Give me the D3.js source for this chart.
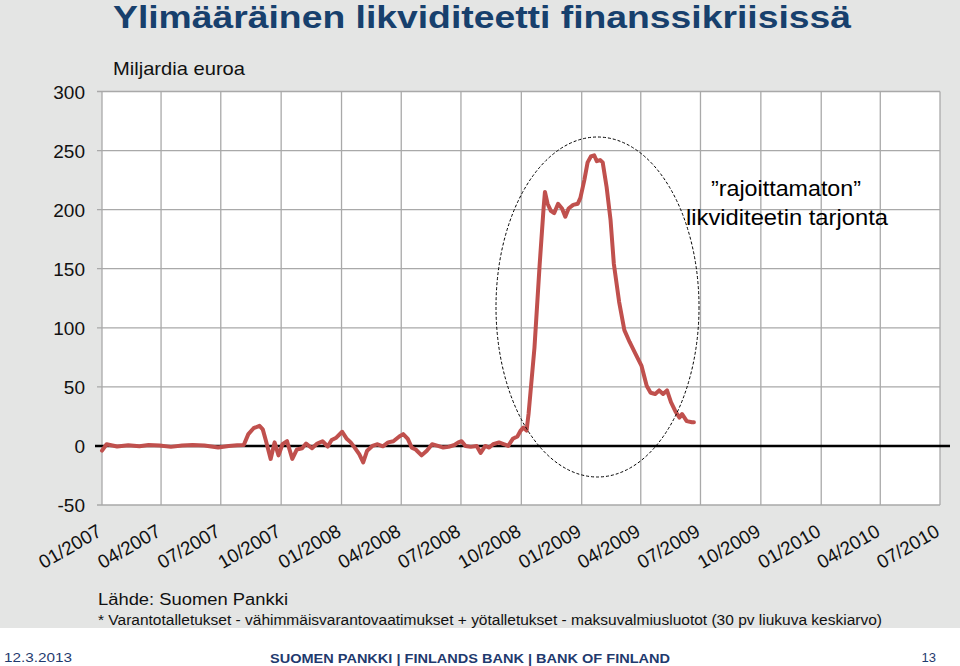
<!DOCTYPE html>
<html><head><meta charset="utf-8">
<script src="https://cdn.jsdelivr.net/npm/d3@7"></script>
<style>
html,body{margin:0;padding:0;background:#fff;}
svg{display:block;font-family:"Liberation Sans",Arial,sans-serif;}
</style></head>
<body>
<svg id="c" width="960" height="666"></svg>
<script>
// ---- data ----
const dates = ["2007-01-01","2007-01-08","2007-01-24","2007-02-10","2007-02-27","2007-03-13","2007-03-30","2007-04-16","2007-05-03","2007-05-19","2007-06-06","2007-06-27","2007-07-13","2007-07-26","2007-08-05","2007-08-12","2007-08-20","2007-08-29","2007-09-03","2007-09-08","2007-09-15","2007-09-21","2007-09-27","2007-10-03","2007-10-10","2007-10-18","2007-10-25","2007-11-02","2007-11-08","2007-11-17","2007-11-25","2007-12-03","2007-12-11","2007-12-17","2007-12-24","2008-01-02","2008-01-09","2008-01-15","2008-01-21","2008-01-28","2008-02-03","2008-02-09","2008-02-17","2008-02-25","2008-03-04","2008-03-12","2008-03-20","2008-03-29","2008-04-04","2008-04-11","2008-04-17","2008-04-23","2008-05-02","2008-05-10","2008-05-18","2008-05-27","2008-06-04","2008-06-12","2008-06-21","2008-06-27","2008-07-02","2008-07-08","2008-07-16","2008-07-25","2008-07-31","2008-08-07","2008-08-13","2008-08-19","2008-08-28","2008-09-05","2008-09-11","2008-09-18","2008-09-25","2008-09-30","2008-10-04","2008-10-09","2008-10-12","2008-10-21","2008-10-29","2008-11-04","2008-11-06","2008-11-10","2008-11-15","2008-11-20","2008-11-26","2008-12-02","2008-12-07","2008-12-12","2008-12-19","2008-12-26","2008-12-30","2009-01-05","2009-01-10","2009-01-15","2009-01-20","2009-01-24","2009-01-29","2009-02-02","2009-02-08","2009-02-14","2009-02-19","2009-02-27","2009-03-07","2009-03-15","2009-03-24","2009-04-02","2009-04-10","2009-04-16","2009-04-23","2009-04-29","2009-05-05","2009-05-11","2009-05-17","2009-05-24","2009-05-30","2009-06-03","2009-06-10","2009-06-18","2009-06-21"];
const values = [-4,1.4,-0.5,0.5,-0.3,0.8,0.3,-0.8,0.3,0.8,0.3,-1.4,0,0.6,0.8,10,15,17,14,4,-11,3,-8,1.4,4,-11,-3,-2,2,-2,2,4,-0.5,5,7,12,6,3,-1.4,-7,-14,-4,0,1.4,-0.3,3,4,8,10,6,-1.4,-3,-8,-4,1.4,0,-1.4,-0.8,0.8,3,4,0,-0.8,0,-6,0,-1.4,1.4,3,1.4,0,6,8,13,15.5,13,27,83,154,202,215,205,199,197,205,201,194,201,204,205,210,225,240,245,246,241,242,240,219,191,154,122,98,88,78,68,51,45,44,47,44,47,37,29,24,27,21,20,20];
const xTickLabels = ["01/2007","04/2007","07/2007","10/2007","01/2008","04/2008","07/2008","10/2008","01/2009","04/2009","07/2009","10/2009","01/2010","04/2010","07/2010"];
const yTicks = [-50,0,50,100,150,200,250,300];

const svg = d3.select("#c");
const W = 960, H = 666;
const parse = d3.timeParse("%Y-%m-%d");
const pts = dates.map((d,i)=>({date:parse(d), v:values[i]}));
const tickDates = xTickLabels.map(s=>{const [m,y]=s.split("/"); return new Date(+y, +m-1, 1);});

// background
svg.append("rect").attr("x",0).attr("y",0).attr("width",W).attr("height",628).attr("fill","#e4e5e4");
svg.append("rect").attr("x",0).attr("y",628).attr("width",W).attr("height",H-628).attr("fill","#ffffff");

const x = d3.scaleTime().domain([tickDates[0], tickDates[tickDates.length-1]]).range([102,940]);
const y = d3.scaleLinear().domain([-50,300]).range([505,91.5]);

// plot area
svg.append("rect").attr("x",102).attr("y",y(300)).attr("width",838).attr("height",y(-50)-y(300)).attr("fill","#fff");

// grid
const g = svg.append("g");
g.selectAll("line.h").data(yTicks).join("line")
  .attr("x1",97).attr("x2",940).attr("y1",d=>y(d)).attr("y2",d=>y(d))
  .attr("stroke","#a9a9a9").attr("stroke-width",1.3);
g.selectAll("line.v").data(tickDates).join("line")
  .attr("x1",d=>x(d)).attr("x2",d=>x(d)).attr("y1",y(300)).attr("y2",y(-50))
  .attr("stroke","#a9a9a9").attr("stroke-width",1.3);

// y labels
svg.selectAll("text.yl").data(yTicks).join("text")
  .attr("x",85).attr("y",d=>y(d)+7).attr("text-anchor","end")
  .attr("font-size",19).attr("fill","#111").text(d=>d);

// x labels
svg.selectAll("text.xl").data(xTickLabels).join("text")
  .attr("transform",(d,i)=>`translate(${x(tickDates[i])+1},535) rotate(-30)`)
  .attr("text-anchor","end").attr("font-size",19).attr("fill","#111").text(d=>d);

// zero line
svg.append("line").attr("x1",95).attr("x2",950).attr("y1",y(0)).attr("y2",y(0))
  .attr("stroke","#000").attr("stroke-width",2.5);

// series
const line = d3.line().x(d=>x(d.date)).y(d=>y(d.v)).curve(d3.curveLinear);
svg.append("path").datum(pts).attr("d",line).attr("fill","none")
  .attr("stroke","#c0504d").attr("stroke-width",4).attr("stroke-linejoin","round").attr("stroke-linecap","round");

// ellipse
svg.append("ellipse").attr("cx",597.5).attr("cy",307).attr("rx",101.5).attr("ry",170)
  .attr("fill","none").attr("stroke","#000").attr("stroke-width",1).attr("stroke-dasharray","3,2");

// annotation
svg.append("text").attr("x",786).attr("y",196).attr("text-anchor","middle").attr("font-size",22)
  .attr("textLength",150).attr("lengthAdjust","spacingAndGlyphs").attr("fill","#000").text("\u201Drajoittamaton\u201D");
svg.append("text").attr("x",787).attr("y",225).attr("text-anchor","middle").attr("font-size",22)
  .attr("textLength",202).attr("lengthAdjust","spacingAndGlyphs").attr("fill","#000").text("likviditeetin tarjonta");

// title
svg.append("text").attr("x",113).attr("y",28).attr("font-size",32).attr("font-weight","bold")
  .attr("fill","#17406d").attr("textLength",738).attr("lengthAdjust","spacingAndGlyphs")
  .text("Ylimääräinen likviditeetti finanssikriisissä");
svg.append("text").attr("x",113).attr("y",75).attr("font-size",19).attr("fill","#111")
  .attr("textLength",132).attr("lengthAdjust","spacingAndGlyphs").text("Miljardia euroa");

// source
svg.append("text").attr("x",98).attr("y",605).attr("font-size",16).attr("fill","#111")
  .attr("textLength",190).attr("lengthAdjust","spacingAndGlyphs").text("Lähde: Suomen Pankki");
svg.append("text").attr("x",98).attr("y",625).attr("font-size",14).attr("fill","#111")
  .attr("textLength",784).attr("lengthAdjust","spacingAndGlyphs")
  .text("* Varantotalletukset - vähimmäisvarantovaatimukset + yötalletukset - maksuvalmiusluotot (30 pv liukuva keskiarvo)");

// footer
svg.append("text").attr("x",4).attr("y",662).attr("font-size",13).attr("fill","#1f3a6e")
  .attr("textLength",68).attr("lengthAdjust","spacingAndGlyphs").text("12.3.2013");
svg.append("text").attr("x",470).attr("y",663).attr("text-anchor","middle").attr("font-size",13).attr("font-weight","bold")
  .attr("fill","#1f3a6e").attr("textLength",400).attr("lengthAdjust","spacingAndGlyphs")
  .text("SUOMEN PANKKI | FINLANDS BANK | BANK OF FINLAND");
svg.append("text").attr("x",936).attr("y",662).attr("text-anchor","end").attr("font-size",13).attr("fill","#1f3a6e").text("13");
</script>
</body></html>
